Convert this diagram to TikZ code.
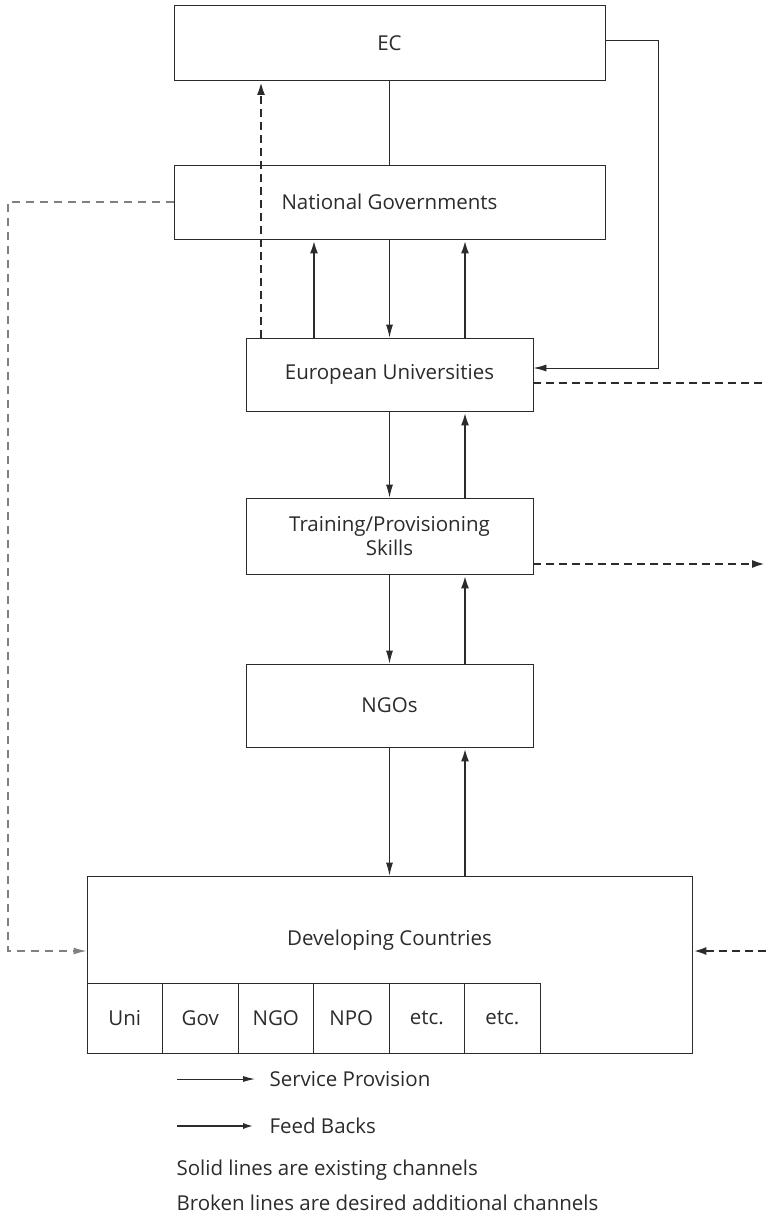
\documentclass[tikz,border=0pt]{standalone}
\usepackage{fontspec}
\setmainfont{Open Sans}
\usetikzlibrary{arrows.meta,positioning}
\definecolor{ink}{HTML}{2B2B2B}
\definecolor{greyline}{HTML}{808080}
\begin{document}
\begin{tikzpicture}[
        x=1pt, y=-1pt,
        every node/.style={align=center, text=ink, font=\fontsize{20.5}{24}\selectfont},
        box/.style={draw=ink, line width=0.9pt, inner sep=0pt},
        subbox/.style={box, minimum width=75.5pt, minimum height=70pt},
        service/.style={draw=ink, line width=0.9pt, -{Latex[length=13pt,width=7pt]}},
        feedback/.style={draw=ink, line width=2.8pt, -{Latex[length=14pt,width=8pt]}},
        wanted/.style={draw=ink, line width=2.8pt, dash pattern=on 8pt off 5pt},
        wantedlink/.style={wanted, -{Latex[length=14pt,width=8pt]}},
        faint/.style={draw=greyline, line width=1.3pt, dash pattern=on 8pt off 6pt},
    ]
    \useasboundingbox (0,0) rectangle (766,1216);
    \node[box, minimum width=431pt, minimum height=75pt] (ec) at (389.5,43) {EC};
    \node[box, minimum width=431pt, minimum height=74pt] (ng) at (389.5,202) {National Governments};
    \node[box, minimum width=287pt, minimum height=73pt] (eu) at (389.5,374.5) {European Universities};
    \node[box, minimum width=287pt, minimum height=76pt] (tr) at (389.5,536) {Training/Provisioning\\Skills};
    \node[box, minimum width=287pt, minimum height=83pt] (ngo) at (389.5,705.5) {NGOs};
    \node[box, minimum width=605pt, minimum height=177pt] (dc) at (389.5,964.5) {};
    \node (dctitle) at (389.5,940) {Developing Countries};
    \foreach \lbl [count=\i] in {Uni,Gov,NGO,NPO,etc.,etc.}
        \node[subbox] (s\i) at ({87+75.5*(\i-0.5)},1018) {\lbl};

    \coordinate (ecturn) at (658,40);
    \coordinate (rimtop) at (766,383);
    \coordinate (rimmid) at (766,564);
    \coordinate (rimlow) at (766,951);
    \coordinate (leftrun) at (8,202);

    \draw[draw=ink, line width=0.9pt] (ec) -- (ng);
    \draw[service] ([yshift=3pt]ec.east) -- (ecturn) |- ([yshift=6.5pt]eu.east);
    \draw[wantedlink] ([xshift=-128.5pt]eu.north) -- ([xshift=-128.5pt]ec.south);
    \draw[feedback] ([xshift=-75.5pt]eu.north) -- ([xshift=-75.5pt]ng.south);
    \draw[feedback] ([xshift=75.5pt]eu.north) -- ([xshift=75.5pt]ng.south);
    \draw[service] (ng) -- (eu);

    \draw[service] (eu) -- (tr);
    \draw[feedback] ([xshift=75.5pt]tr.north) -- ([xshift=75.5pt]eu.south);
    \draw[service] (tr) -- (ngo);
    \draw[feedback] ([xshift=75.5pt]ngo.north) -- ([xshift=75.5pt]tr.south);
    \draw[service] (ngo) -- (dc);
    \draw[feedback] ([xshift=75.5pt]dc.north) -- ([xshift=75.5pt]ngo.south);

    \draw[wanted] ([yshift=-8.5pt]eu.east) -- (rimtop);
    \draw[wantedlink] ([yshift=-28pt]tr.east) -- (rimmid);
    \draw[wantedlink] (rimlow) -- ([yshift=13.5pt]dc.east);
    \draw[faint, -{Latex[length=13pt,width=7pt]}]
        (ng.west) -- (leftrun) |- ([yshift=13.5pt]dc.west);

    \coordinate (k1a) at (177,1079);
    \coordinate (k1b) at (255,1079);
    \coordinate (k2a) at (177,1126);
    \coordinate (k2b) at (255,1126);
    \draw[service, -{Latex[length=12pt,width=6pt]}] (k1a) -- (k1b);
    \draw[draw=ink, line width=2.4pt, -{Latex[length=12pt,width=6pt]}] (k2a) -- (k2b);
    \node[anchor=west] (key1) at (266,1079) {Service Provision};
    \node[anchor=west] (key2) at (266,1126) {Feed Backs};
    \node[anchor=west] (note1) at (173,1170) {Solid lines are existing channels};
    \node[anchor=west] (note2) at (173,1203) {Broken lines are desired additional channels};
\end{tikzpicture}
\end{document}
